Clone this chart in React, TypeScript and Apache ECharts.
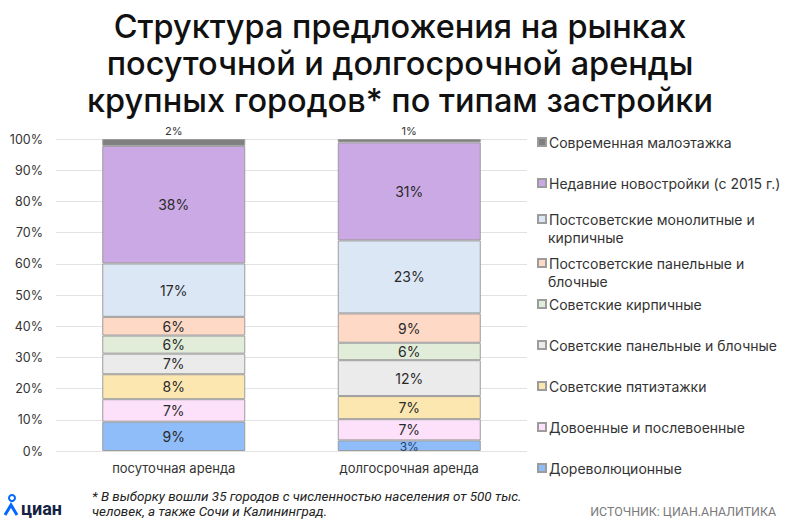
import React, { useEffect, useRef } from "react";
import * as echarts from "echarts";

const categories = ["посуточная аренда", "долгосрочная аренда"];
const seriesNames = [
  "Дореволюционные",
  "Довоенные и послевоенные",
  "Советские пятиэтажки",
  "Советские панельные и блочные",
  "Советские кирпичные",
  "Постсоветские панельные и блочные",
  "Постсоветские монолитные и кирпичные",
  "Недавние новостройки (с 2015 г.)",
  "Современная малоэтажка",
];
const seriesValues = [
  [9.4, 3.4],
  [7.2, 6.8],
  [8.0, 7.4],
  [6.6, 11.5],
  [5.8, 5.6],
  [6.0, 9.4],
  [17.1, 23.4],
  [37.7, 31.4],
  [2.2, 1.1],
];
const colors = [
  "#8fbdf9",
  "#fde0f9",
  "#fde7b0",
  "#ebebeb",
  "#e1edd9",
  "#fdd9c6",
  "#dbe7f5",
  "#caa9e4",
  "#808080",
];
const legendLines: Record<string, string[]> = {
  "Постсоветские монолитные и кирпичные": ["Постсоветские монолитные и", "кирпичные"],
  "Постсоветские панельные и блочные": ["Постсоветские панельные и", "блочные"],
};
const legendCenters = [468, 427, 386, 345, 304, 263, 219, 183, 142];
const yTicks = [0, 10, 20, 30, 40, 50, 60, 70, 80, 90, 100];
const titleText = "Структура предложения на рынках\nпосуточной и долгосрочной аренды\nкрупных городов* по типам застройки";
const footnote = ["* В выборку вошли 35 городов с численностью населения от 500 тыс.", "человек, а также Сочи и Калининград."];
const sourceText = "ИСТОЧНИК: ЦИАН.АНАЛИТИКА";

const FONT = "Inter, 'Noto Sans', sans-serif";

export default function App() {
  const ref = useRef<HTMLDivElement>(null);
  useEffect(() => {
    if (!ref.current) return;
    const chart = echarts.init(ref.current, undefined, { renderer: "svg" });
    const LH = 17;
    const LEG_X = 537;
    const series = seriesNames.map((name, i) => {
      const isTop = i === seriesNames.length - 1;
      return {
        name,
        type: "bar",
        stack: "total",
        barWidth: 143,
        itemStyle: { color: colors[i], borderColor: "#9c9c9c", borderWidth: 1 },
        label: isTop
          ? {
              show: true,
              position: "top",
              distance: 3,
              fontSize: 11,
              color: "#333",
              fontFamily: FONT,
              formatter: (p: any) => Math.round(p.value) + "%",
            }
          : {
              show: true,
              position: "inside",
              fontSize: 14,
              color: "#2a2a2a",
              fontFamily: FONT,
              formatter: (p: any) => Math.round(p.value) + "%",
            },
        data: seriesValues[i].map((v) => {
          if (i === 0 && v < 5) {
            return { value: v, label: { fontSize: 12, color: "#1f3f73", offset: [0, 1] } };
          }
          return v;
        }),
      };
    });
    const legends = seriesNames.map((name, i) => {
      const two = legendLines[name];
      const c = legendCenters[i];
      return {
        data: [name],
        left: LEG_X,
        top: c - LH / 2,
        padding: 0,
        orient: "vertical",
        itemWidth: 8,
        itemHeight: 8,
        itemGap: 0,
        icon: "rect",
        selectedMode: false,
        formatter: two ? two[0] : name,
        textStyle: {
          fontSize: 14,
          color: "#333",
          fontFamily: FONT,
          lineHeight: LH,
          padding: [0, 0, 0, -2],
        },
      };
    });
    const legendSecondLines = seriesNames
      .map((name, i) => ({ name, i }))
      .filter((o) => legendLines[o.name])
      .map((o) => ({
        type: "text",
        x: LEG_X + 11,
        y: legendCenters[o.i] + 18,
        style: {
          text: legendLines[o.name][1],
          fontSize: 14,
          fill: "#333",
          fontFamily: FONT,
          verticalAlign: "middle",
        },
      }));
    chart.setOption({
      animation: false,
      backgroundColor: "#fff",
      title: {
        text: titleText,
        left: "center",
        top: 8,
        padding: 0,
        textStyle: {
          fontSize: 32.5,
          lineHeight: 37,
          fontWeight: 500,
          color: "#111",
          fontFamily: FONT,
        },
      },
      legend: legends,
      grid: { left: 56, right: 273, top: 139, bottom: 71 },
      xAxis: {
        type: "category",
        data: categories,
        axisLine: { show: false },
        axisTick: { show: false },
        axisLabel: { fontSize: 13, color: "#333", margin: 10, fontFamily: FONT },
      },
      yAxis: {
        type: "value",
        min: 0,
        max: 100,
        interval: 10,
        axisLabel: {
          fontSize: 12.5,
          color: "#333",
          margin: 13,
          fontFamily: FONT,
          formatter: (v: number) => (yTicks.includes(v) ? v + "%" : ""),
        },
        splitLine: { lineStyle: { color: "#e2e2e2", width: 1 } },
      },
      series,
      graphic: [
        ...legendSecondLines,
        { type: "circle", shape: { cx: 12, cy: 498, r: 3 }, style: { fill: "none", stroke: "#0468ff", lineWidth: 2 } },
        { type: "polyline", shape: { points: [[5, 515], [11, 505], [17, 515]] }, style: { stroke: "#0468ff", lineWidth: 3, fill: "none" } },
        {
          type: "text",
          x: 21,
          y: 508,
          style: { text: "циан", fontSize: 18, fontWeight: "bold", fill: "#152242", fontFamily: "Roboto, sans-serif", verticalAlign: "middle" },
        },
        {
          type: "text",
          x: 92,
          y: 496,
          style: { text: footnote[0], fontSize: 13.4, fontStyle: "italic", fill: "#222", fontFamily: "Roboto, sans-serif", verticalAlign: "middle" },
        },
        {
          type: "text",
          x: 92,
          y: 511,
          style: { text: footnote[1], fontSize: 13.4, fontStyle: "italic", fill: "#222", fontFamily: "Roboto, sans-serif", verticalAlign: "middle" },
        },
        {
          type: "text",
          x: 776,
          y: 511,
          style: { text: sourceText, fontSize: 12.4, fill: "#7a7a7a", fontFamily: "Roboto, sans-serif", align: "right", verticalAlign: "middle" },
        },
      ],
    });
    return () => chart.dispose();
  }, []);
  return <div ref={ref} style={{ position: "absolute", left: 0, top: 0, width: 800, height: 522 }} />;
}
